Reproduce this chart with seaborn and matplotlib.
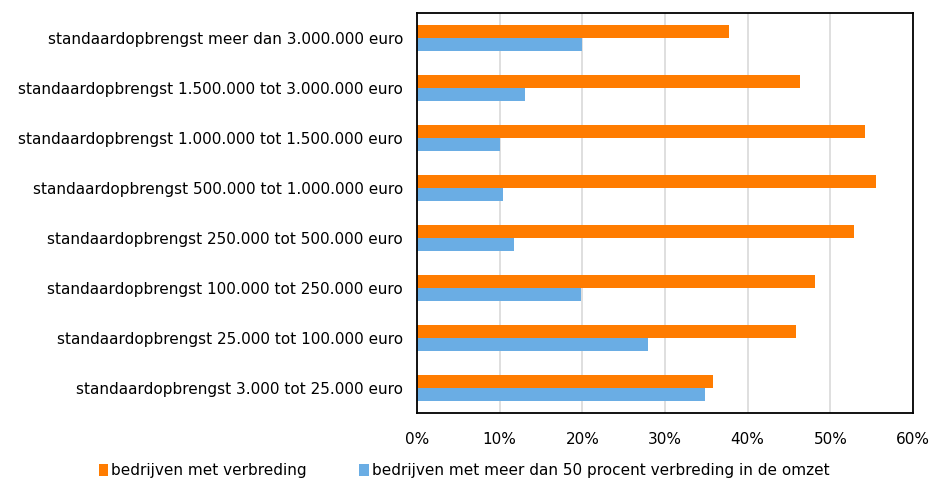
import pandas as pd
import seaborn as sns
import matplotlib.pyplot as plt
from matplotlib.patches import Patch
from matplotlib.ticker import PercentFormatter

# categorieen (van boven naar beneden)
categorieen = [
    'standaardopbrengst meer dan 3.000.000 euro',
    'standaardopbrengst 1.500.000 tot 3.000.000 euro',
    'standaardopbrengst 1.000.000 tot 1.500.000 euro',
    'standaardopbrengst 500.000 tot 1.000.000 euro',
    'standaardopbrengst 250.000 tot 500.000 euro',
    'standaardopbrengst 100.000 tot 250.000 euro',
    'standaardopbrengst 25.000 tot 100.000 euro',
    'standaardopbrengst 3.000 tot 25.000 euro',
]
verbreding = [37.7, 46.3, 54.2, 55.5, 52.9, 48.2, 45.8, 35.8]
meer_dan_50 = [20.0, 13.1, 10.1, 10.35, 11.7, 19.85, 28.0, 34.8]
series = ['bedrijven met verbreding',
          'bedrijven met meer dan 50 procent verbreding in de omzet']
kleuren = ['#FF7C00', '#6AADE4']

df = pd.DataFrame({
    'categorie': categorieen * 2,
    'waarde': verbreding + meer_dan_50,
    'reeks': [series[0]] * 8 + [series[1]] * 8,
})

sns.set_theme(style="white")
plt.rcParams['font.family'] = ['DejaVu Sans']

fig = plt.figure(figsize=(9.32, 4.79), dpi=100)
ax = fig.add_axes([0.4474, 0.1378, 0.5322, 0.8351])

sns.barplot(data=df, y='categorie', x='waarde', hue='reeks', order=categorieen,
            hue_order=series, palette=kleuren, saturation=1, orient='h',
            width=0.53, gap=0, edgecolor='none', legend=False, ax=ax)

ax.set_xlim(0, 60)
ax.set_xticks(range(0, 61, 10))
ax.xaxis.set_major_formatter(PercentFormatter(decimals=0))
ax.grid(axis='x', color='#D9D9D9', linewidth=1.2)
ax.set_axisbelow(True)
ax.set_xlabel('')
ax.set_ylabel('')
ax.tick_params(axis='both', length=0, labelsize=11, colors='black')
ax.tick_params(axis='x', pad=14)
ax.tick_params(axis='y', pad=10)
for s in ax.spines.values():
    s.set_color('black')
    s.set_linewidth(1.3)

handles = [Patch(facecolor=c, edgecolor='none') for c in kleuren]
fig.legend(handles, series, loc='lower center', bbox_to_anchor=(0.498, -0.027),
           ncol=2, frameon=False, fontsize=11, labelcolor='black',
           handlelength=0.6, handleheight=0.9, handletextpad=0.2,
           columnspacing=3.45)

fig.savefig('out.png', dpi=100)
